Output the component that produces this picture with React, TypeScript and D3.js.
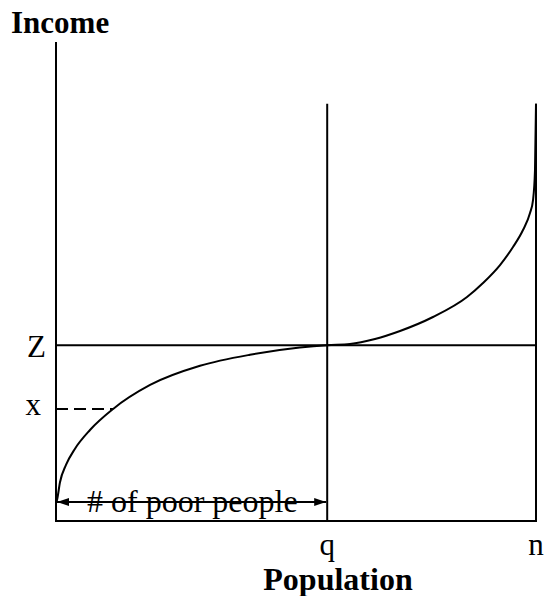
import React from "react";
import * as d3 from "d3";

// Income distribution sorted by population rank (arbitrary units 0–100)
const population = [0, 0.21, 0.83, 2.08, 3.96, 7.08, 11.9, 19.6, 30.0, 40.4, 50.8, 56.5, 61.25, 66.46, 71.67, 78.54, 85.63, 88.96, 92.5, 95.21, 97.29, 98.75, 99.38, 99.79, 100];
const income = [3.8, 4.4, 8.1, 11.7, 15.1, 19.0, 23.4, 28.4, 32.4, 34.7, 36.2, 36.7, 36.95, 38.0, 39.67, 42.59, 46.76, 49.69, 53.44, 57.2, 60.75, 64.3, 67.01, 73.28, 87.1];

const povertyLine = 36.7; // Z
const sampleIncome = 23.4; // x
const poorCount = 56.5; // q
const totalPop = 100; // n
const frameTop = 87.1;
const incomeMax = 100;

const W = 544;
const H = 596;

export default function App() {
  const xs = d3.scaleLinear().domain([0, totalPop]).range([56, 536]);
  const ys = d3.scaleLinear().domain([0, incomeMax]).range([521, 42]);

  const pts: [number, number][] = population.map((p, i) => [p, income[i]]);
  const line = d3
    .line<[number, number]>()
    .x((d) => xs(d[0]))
    .y((d) => ys(d[1]))
    .curve(d3.curveMonotoneX);

  // where the dashed x-level meets the curve
  const idx = income.findIndex((v) => v >= sampleIncome);
  const t = (sampleIncome - income[idx - 1]) / (income[idx] - income[idx - 1]);
  const sampleX = population[idx - 1] + t * (population[idx] - population[idx - 1]);

  const arrowY = 502;
  const font = "'Liberation Serif', 'Times New Roman', serif";

  return (
    <svg width={W} height={H} style={{ position: "absolute", left: 0, top: 0, background: "#fff" }}>
      <defs>
        <marker id="ah" viewBox="0 0 12 8" refX="12" refY="4" markerWidth="12" markerHeight="8" markerUnits="userSpaceOnUse" orient="auto-start-reverse">
          <path d="M0,0 L12,4 L0,8 Z" fill="#000" />
        </marker>
      </defs>

      {/* axes and frame */}
      <line x1={xs(0)} y1={ys(incomeMax)} x2={xs(0)} y2={ys(0)} stroke="#000" strokeWidth={2} />
      <line x1={xs(0) - 1} y1={ys(0)} x2={xs(totalPop) + 1} y2={ys(0)} stroke="#000" strokeWidth={2} />
      <line x1={xs(totalPop)} y1={ys(frameTop)} x2={xs(totalPop)} y2={ys(0)} stroke="#000" strokeWidth={2} />
      <line x1={xs(poorCount)} y1={ys(frameTop)} x2={xs(poorCount)} y2={ys(0)} stroke="#000" strokeWidth={2} />
      <line x1={xs(0)} y1={ys(povertyLine)} x2={xs(totalPop)} y2={ys(povertyLine)} stroke="#000" strokeWidth={2} />

      {/* dashed income level x */}
      <line x1={xs(0)} y1={ys(sampleIncome)} x2={xs(sampleX)} y2={ys(sampleIncome)} stroke="#000" strokeWidth={2} strokeDasharray="12,6" />

      {/* income curve */}
      <path d={line(pts) ?? ""} fill="none" stroke="#000" strokeWidth={2} />

      {/* poor population span */}
      <line x1={xs(0) + 1} y1={arrowY} x2={xs(poorCount) - 1} y2={arrowY} stroke="#000" strokeWidth={2} markerStart="url(#ah)" markerEnd="url(#ah)" />
      <text x={87} y={512} fontFamily={font} fontSize={32}>
        # of poor people
      </text>

      {/* labels */}
      <text x={11} y={33} fontFamily={font} fontSize={31} fontWeight="bold">
        Income
      </text>
      <text x={xs(0) - 10} y={ys(povertyLine) + 12} fontFamily={font} fontSize={31} textAnchor="end">
        Z
      </text>
      <text x={xs(0) - 15} y={ys(sampleIncome) + 6} fontFamily={font} fontSize={31} textAnchor="end">
        x
      </text>
      <text x={xs(poorCount)} y={555} fontFamily={font} fontSize={31} textAnchor="middle">
        q
      </text>
      <text x={xs(totalPop)} y={555} fontFamily={font} fontSize={31} textAnchor="middle">
        n
      </text>
      <text x={338} y={590} fontFamily={font} fontSize={32} fontWeight="bold" textAnchor="middle">
        Population
      </text>
    </svg>
  );
}
